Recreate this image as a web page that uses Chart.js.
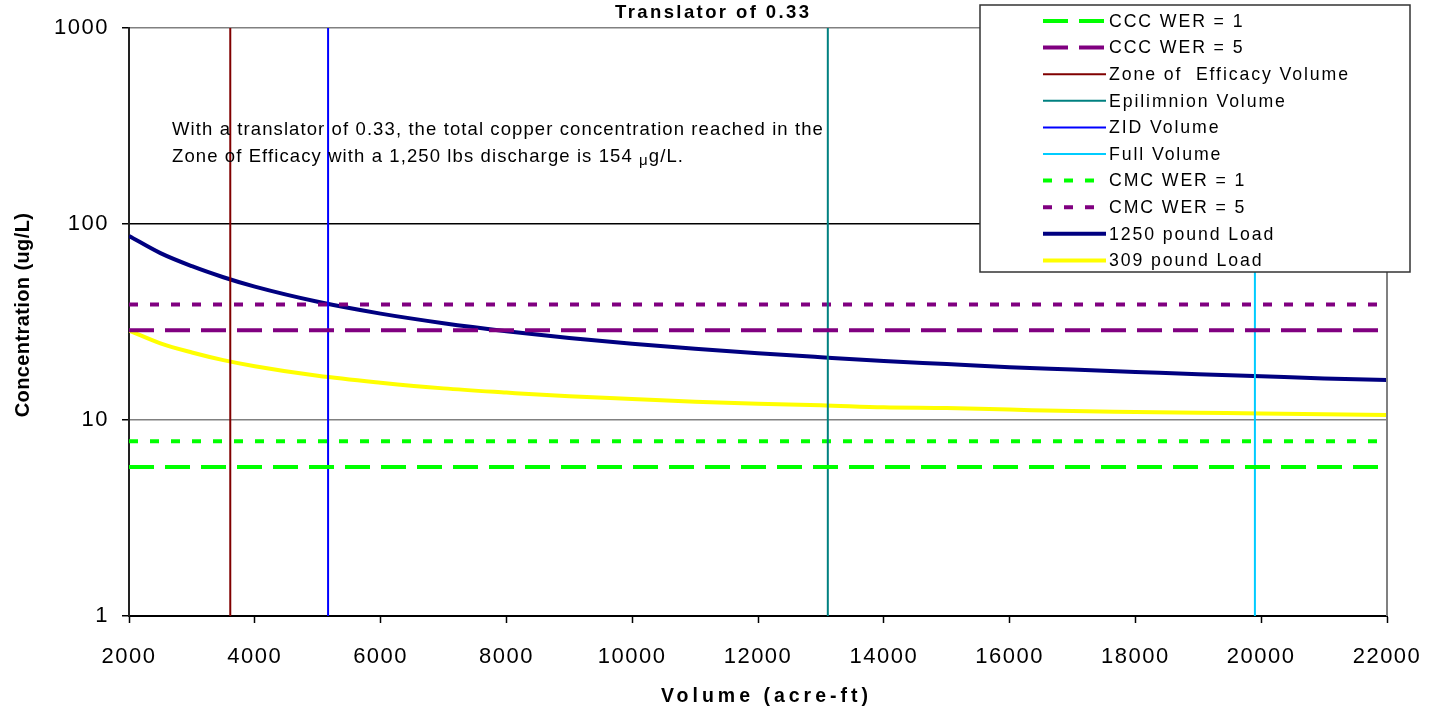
<!DOCTYPE html>
<html>
<head>
<meta charset="utf-8">
<script src="https://cdn.jsdelivr.net/npm/chart.js@4/dist/chart.umd.min.js"></script>
<style>
  body { margin: 0; background: #fff; }
  canvas { display: block; }
</style>
</head>
<body>
<canvas id="chartTranslator" width="1437" height="710"></canvas>
<script>
const VOLUMES = [2000, 2500, 3000, 3500, 4000, 5000, 6000, 7000, 8000, 9000, 10000,
  11000, 12000, 13000, 14000, 15000, 16000, 17000, 18000, 19000, 20000, 21000, 22000];
const LOAD_1250 = [86.9, 71.0, 60.9, 53.5, 47.9, 40.1, 34.9, 31.2, 28.4, 26.2, 24.5,
  23.1, 21.9, 20.9, 20.0, 19.3, 18.6, 18.1, 17.6, 17.1, 16.7, 16.3, 16.0];
const LOAD_309 = [28.6, 24.6, 22.1, 20.2, 18.8, 16.8, 15.5, 14.5, 13.8, 13.2, 12.8,
  12.4, 12.1, 11.9, 11.6, 11.5, 11.3, 11.1, 11.0, 10.9, 10.8, 10.7, 10.6];

// criteria levels (ug/L)
const CCC_WER1 = 5.75;
const CCC_WER5 = 28.7;
const CMC_WER1 = 7.8;
const CMC_WER5 = 38.8;

// volume markers (acre-ft)
const ZONE_EFFICACY = 3610;
const EPILIMNION = 13110;
const ZID = 5165;
const FULL = 19900;

const X_MIN = 2000, X_MAX = 22000;
const Y_TICKS = [1, 10, 100, 1000];

const horiz = v => [{ x: X_MIN, y: v }, { x: X_MAX, y: v }];
const vert = v => [{ x: v, y: 1 }, { x: v, y: 1000 }];
const toPoints = (xs, ys) => xs.map((x, i) => ({ x: x, y: ys[i] }));

const datasets = [
  { label: 'CCC WER = 1', data: horiz(CCC_WER1), borderColor: '#00ff00', borderWidth: 4, borderDash: [25, 11] },
  { label: 'CCC WER = 5', data: horiz(CCC_WER5), borderColor: '#800080', borderWidth: 4, borderDash: [25, 11] },
  { label: 'Zone of  Efficacy Volume', data: vert(ZONE_EFFICACY), borderColor: '#800000', borderWidth: 2 },
  { label: 'Epilimnion Volume', data: vert(EPILIMNION), borderColor: '#008080', borderWidth: 2 },
  { label: 'ZID Volume', data: vert(ZID), borderColor: '#0000ff', borderWidth: 2 },
  { label: 'Full Volume', data: vert(FULL), borderColor: '#00ccff', borderWidth: 2 },
  { label: 'CMC WER = 1', data: horiz(CMC_WER1), borderColor: '#00ff00', borderWidth: 4, borderDash: [9, 12] },
  { label: 'CMC WER = 5', data: horiz(CMC_WER5), borderColor: '#800080', borderWidth: 4, borderDash: [9, 12] },
  { label: '1250 pound Load', data: toPoints(VOLUMES, LOAD_1250), borderColor: '#000080', borderWidth: 4, cubicInterpolationMode: 'monotone' },
  { label: '309 pound Load', data: toPoints(VOLUMES, LOAD_309), borderColor: '#ffff00', borderWidth: 4, cubicInterpolationMode: 'monotone' },
];
datasets.forEach(d => { d.pointRadius = 0; d.fill = false; });

const FONT = 'Arial, "Liberation Sans", sans-serif';

const extras = {
  id: 'extras',
  beforeDraw(chart) {
    // tick labels are drawn a little spaced out
    chart.ctx.letterSpacing = '1.5px';
  },
  afterDraw(chart) {
    const ctx = chart.ctx;
    const a = chart.chartArea;
    ctx.save();

    // right border
    ctx.strokeStyle = '#808080';
    ctx.lineWidth = 2;
    ctx.beginPath();
    ctx.moveTo(a.right, a.top);
    ctx.lineTo(a.right, a.bottom);
    ctx.stroke();

    // title
    ctx.fillStyle = '#000';
    ctx.textBaseline = 'middle';
    ctx.textAlign = 'left';
    ctx.letterSpacing = '2.4px';
    ctx.font = 'bold 18.5px ' + FONT;
    ctx.fillText('Translator of 0.33', 615, 13);

    // axis titles
    ctx.letterSpacing = '4px';
    ctx.font = 'bold 19.5px ' + FONT;
    ctx.fillText('Volume (acre-ft)', 661, 697);
    ctx.save();
    ctx.translate(23, 315);
    ctx.rotate(-Math.PI / 2);
    ctx.textAlign = 'center';
    ctx.letterSpacing = '0.4px';
    ctx.font = 'bold 20px ' + FONT;
    ctx.fillText('Concentration (ug/L)', 0, 0);
    ctx.restore();

    // note
    ctx.textAlign = 'left';
    ctx.letterSpacing = '1.1px';
    ctx.font = '18.5px ' + FONT;
    ctx.fillText('With a translator of 0.33, the total copper concentration reached in the', 172, 130);
    let t = 'Zone of Efficacy with a 1,250 lbs discharge is 154 ';
    ctx.fillText(t, 172, 157);
    let x = 172 + ctx.measureText(t).width;
    ctx.font = '15px ' + FONT;
    ctx.fillText('\u03bc', x, 161);
    x += ctx.measureText('\u03bc').width;
    ctx.font = '18.5px ' + FONT;
    ctx.fillText('g/L.', x, 157);

    // legend
    ctx.fillStyle = '#fff';
    ctx.fillRect(980, 5, 430, 267);
    ctx.strokeStyle = '#333';
    ctx.lineWidth = 1.5;
    ctx.strokeRect(980, 5, 430, 267);
    ctx.letterSpacing = '1.9px';
    ctx.font = '17.7px ' + FONT;
    chart.data.datasets.forEach((ds, i) => {
      const y = 21 + i * 26.6;
      ctx.strokeStyle = ds.borderColor;
      ctx.lineWidth = ds.borderWidth;
      ctx.setLineDash(ds.borderDash || []);
      ctx.beginPath();
      ctx.moveTo(1043, y);
      ctx.lineTo(1106, y);
      ctx.stroke();
      ctx.setLineDash([]);
      ctx.fillStyle = '#000';
      ctx.fillText(ds.label, 1109, y + 1);
    });
    ctx.restore();
    ctx.letterSpacing = '0px';
  }
};

new Chart(document.getElementById('chartTranslator'), {
  type: 'line',
  data: { datasets: datasets },
  plugins: [extras],
  options: {
    responsive: false,
    animation: false,
    layout: { padding: { top: 28, right: 50, left: 0, bottom: 0 } },
    plugins: { legend: { display: false }, tooltip: { enabled: false } },
    scales: {
      x: {
        type: 'linear',
        min: X_MIN,
        max: X_MAX,
        afterFit: s => { s.height = 94; s.paddingLeft = 0; s.paddingRight = 0; },
        ticks: { stepSize: 2000, color: '#000', font: { size: 22, family: FONT }, padding: 21, maxRotation: 0, callback: v => String(v) },
        grid: { drawOnChartArea: false, drawTicks: true, tickLength: 7, tickColor: '#000', tickWidth: 1.5 },
        border: { color: '#000', width: 2 }
      },
      y: {
        type: 'logarithmic',
        min: 1,
        max: 1000,
        afterFit: s => { s.width = 129; s.paddingTop = 0; s.paddingBottom = 0; },
        afterBuildTicks: s => { s.ticks = Y_TICKS.map(v => ({ value: v })); },
        ticks: { color: '#000', font: { size: 22, family: FONT }, padding: 13, callback: v => String(v) },
        grid: {
          tickLength: 7,
          tickColor: '#000',
          color: c => (c.tick && c.tick.value === 100 ? '#000' : '#808080'),
          lineWidth: 1.5
        },
        border: { color: '#222', width: 2 }
      }
    }
  }
});
</script>
</body>
</html>
